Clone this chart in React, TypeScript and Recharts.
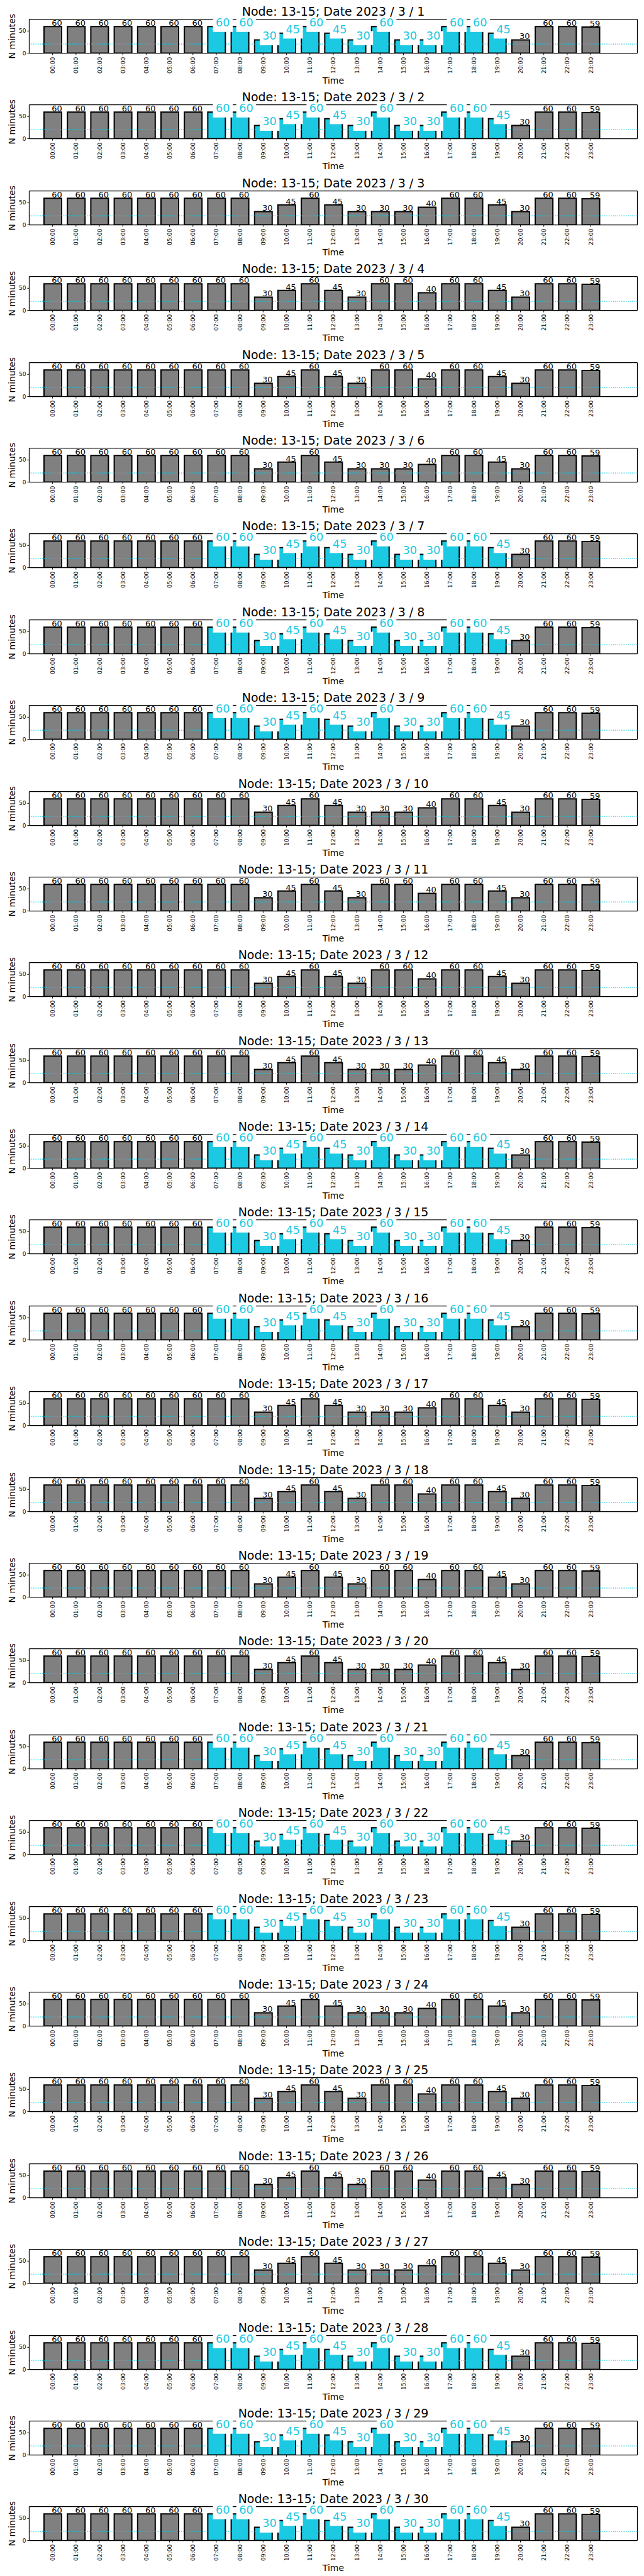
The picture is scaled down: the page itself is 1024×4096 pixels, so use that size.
import React from "react";
import { BarChart, Bar, XAxis, YAxis, Cell, LabelList, ReferenceLine } from "recharts";

const hours = [
  "00:00", "01:00", "02:00", "03:00", "04:00", "05:00", "06:00", "07:00",
  "08:00", "09:00", "10:00", "11:00", "12:00", "13:00", "14:00", "15:00",
  "16:00", "17:00", "18:00", "19:00", "20:00", "21:00", "22:00", "23:00",
];

// minutes per hour, three recurring profiles
const peakDay = [60, 60, 60, 60, 60, 60, 60, 60, 60, 30, 45, 60, 45, 30, 60, 30, 30, 60, 60, 45, 30, 60, 60, 59];
const quietA = [60, 60, 60, 60, 60, 60, 60, 60, 60, 30, 45, 60, 45, 30, 30, 30, 40, 60, 60, 45, 30, 60, 60, 59];
const quietB = [60, 60, 60, 60, 60, 60, 60, 60, 60, 30, 45, 60, 45, 30, 60, 60, 40, 60, 60, 45, 30, 60, 60, 59];

// March 1..30
const dayKinds = [
  "P", "P", "A", "B", "B", "A", "P", "P", "P", "A",
  "B", "B", "A", "P", "P", "P", "A", "B", "B", "A",
  "P", "P", "P", "A", "B", "B", "A", "P", "P", "P",
];

const highlightFrom = 7;
const highlightTo = 19;
const threshold = 20.5;
const yMax = 76.4;

const CYAN = "#1bc9e2";
const GREY = "#808080";
const FONT = "'DejaVu Sans', sans-serif";

const W = 1023;
const H = 136.4;
const LEFT = 46.4;
const RIGHT = 9.5;
const TOP = 30.7;
const XAXIS_H = 51.8;

const tickIdx = hours.map((_, i) => i);

function XTick(props: any) {
  const { x, y, payload } = props;
  return (
    <text
      transform={`translate(${x},${y + 1}) rotate(-90)`}
      textAnchor="end"
      dominantBaseline="central"
      fontSize={9.2}
      fill="#000"
      fontFamily={FONT}
    >
      {hours[payload.value]}
    </text>
  );
}

function YTick(props: any) {
  const { x, y, payload } = props;
  return (
    <text x={x} y={y} textAnchor="end" dominantBaseline="central" fontSize={9} fill="#000" fontFamily={FONT}>
      {payload.value}
    </text>
  );
}

function Day({ day, kind }: { day: number; kind: string }) {
  const values = kind === "P" ? peakDay : kind === "A" ? quietA : quietB;
  const data = hours.map((h, i) => ({
    h: i,
    v: values[i],
    hot: kind === "P" && i >= highlightFrom && i <= highlightTo,
  }));

  const renderLabel = (props: any) => {
    const vb = props.viewBox || {};
    const x = props.x ?? vb.x;
    const y = props.y ?? vb.y;
    const width = props.width ?? vb.width;
    const { value, index } = props;
    const cx = x + width / 2;
    if (data[index] && data[index].hot) {
      const fs = 17.7;
      const tw = String(value).length * 0.636 * fs;
      const left = cx - 1.4;
      return (
        <g>
          <rect x={left - 4.4} y={y - 14} width={tw + 8.9} height={22.5} fill="#fff" />
          <text x={left} y={y} fontSize={fs} fill={CYAN} fontFamily={FONT}>
            {value}
          </text>
        </g>
      );
    }
    return (
      <text x={cx - 1.8} y={y - 1} fontSize={13} fill="#000" fontFamily={FONT}>
        {value}
      </text>
    );
  };

  return (
    <div style={{ position: "relative", width: W, height: H }}>
      <BarChart width={W} height={H} data={data} margin={{ top: TOP, right: RIGHT, left: 0, bottom: 0 }}>
        <XAxis
          type="number"
          dataKey="h"
          domain={[-1, 25]}
          ticks={tickIdx}
          interval={0}
          allowDataOverflow
          height={XAXIS_H}
          tickSize={3}
          tickMargin={2}
          tick={<XTick />}
          axisLine={{ stroke: "#000", strokeWidth: 1.2 }}
          tickLine={{ stroke: "#000" }}
          label={{
            content: (p: any) => {
              const vb = p.viewBox;
              return (
                <text
                  x={vb.x + vb.width / 2}
                  y={vb.y + 43}
                  textAnchor="middle"
                  dominantBaseline="central"
                  fontSize={14}
                  fill="#000"
                  fontFamily={FONT}
                >
                  Time
                </text>
              );
            },
          }}
        />
        <YAxis
          type="number"
          domain={[0, yMax]}
          ticks={[0, 50]}
          allowDataOverflow
          width={LEFT}
          tickSize={3}
          tickMargin={2}
          tick={<YTick />}
          axisLine={{ stroke: "#000", strokeWidth: 1.2 }}
          tickLine={{ stroke: "#000" }}
          label={{
            content: () => (
              <text
                transform={`translate(19,${TOP + (H - TOP - XAXIS_H) / 2}) rotate(-90)`}
                textAnchor="middle"
                dominantBaseline="central"
                fontSize={14}
                fill="#000"
                fontFamily={FONT}
              >
                N minutes
              </text>
            ),
          }}
        />
        <ReferenceLine y={yMax} stroke="#000" strokeWidth={1.2} ifOverflow="extendDomain" />
        <ReferenceLine x={25} stroke="#000" strokeWidth={1.2} ifOverflow="extendDomain" />
        <Bar dataKey="v" barSize={28} stroke="#000" strokeWidth={2} isAnimationActive={false}>
          {data.map((d, i) => (
            <Cell key={i} fill={d.hot ? CYAN : GREY} />
          ))}
          <LabelList dataKey="v" content={renderLabel} />
        </Bar>
        <ReferenceLine y={threshold} stroke={CYAN} strokeWidth={1.4} strokeDasharray="1.4 2" />
      </BarChart>
      <svg width={W} height={H} style={{ position: "absolute", left: 0, top: 0, pointerEvents: "none" }}>
        <text x={530} y={25.2} textAnchor="middle" fontSize={19} fill="#000" fontFamily={FONT}>
          {`Node: 13-15; Date 2023 / 3 / ${day}`}
        </text>
      </svg>
    </div>
  );
}

export default function App() {
  return (
    <div style={{ width: W, fontFamily: FONT, background: "#fff" }}>
      <style>{`body{margin:0}`}</style>
      {dayKinds.map((k, i) => (
        <Day key={i} day={i + 1} kind={k} />
      ))}
    </div>
  );
}
